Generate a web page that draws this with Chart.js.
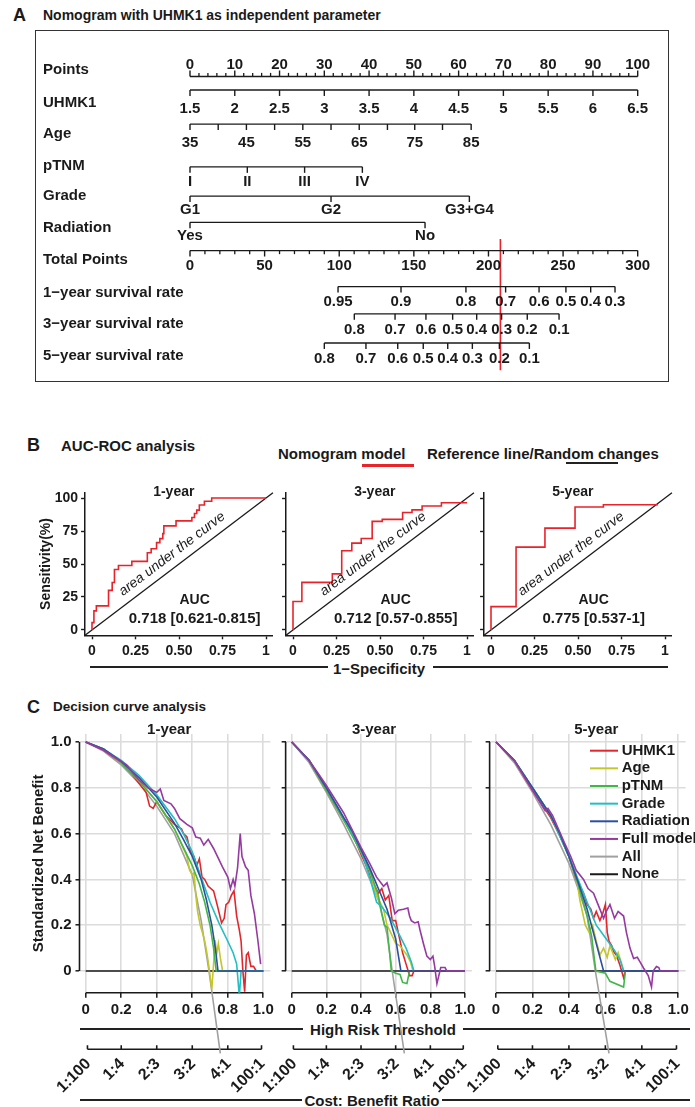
<!DOCTYPE html>
<html>
<head>
<meta charset="utf-8">
<script src="https://cdn.jsdelivr.net/npm/chart.js@4.4.1/dist/chart.umd.min.js"></script>
<style>
  body { margin: 0; width: 695px; height: 1107px; position: relative; overflow: hidden; background: #fff;
         font-family: "Liberation Sans", Arial, Helvetica, sans-serif; color: #1a1a1a; }
  canvas { position: absolute; }
  .lbl { position: absolute; font-weight: bold; white-space: nowrap; line-height: 1; transform: translateY(-50%); }
  .ctr { transform: translate(-50%, -50%); }
  .rule { position: absolute; height: 1.5px; background: #222; }
  .box { position: absolute; border: 1.5px solid #333; box-sizing: border-box; }
</style>
</head>
<body>
<div class="lbl" style="left:13px;top:15px;font-size:18px">A</div>
<div class="lbl" style="left:43px;top:15px;font-size:14px">Nomogram with UHMK1 as independent parameter</div>
<div class="box" style="left:35px;top:30px;width:634px;height:352px"></div>

<div class="lbl" style="left:27px;top:445px;font-size:18px">B</div>
<div class="lbl" style="left:61px;top:445px;font-size:15px">AUC-ROC analysis</div>
<div class="lbl" style="left:278px;top:453px;font-size:15px">Nomogram model</div>
<div class="rule" style="left:362px;top:464px;width:52px;height:2.5px;background:#e8232a"></div>
<div class="lbl" style="left:427px;top:453px;font-size:15px">Reference line/Random changes</div>
<div class="rule" style="left:566px;top:462px;width:52px;height:2px"></div>
<div class="lbl ctr" style="left:379px;top:668px;font-size:15px">1−Specificity</div>
<div class="rule" style="left:90px;top:666px;width:238px"></div>
<div class="rule" style="left:433px;top:666px;width:235px"></div>

<div class="lbl" style="left:27px;top:707px;font-size:18px">C</div>
<div class="lbl" style="left:53px;top:707px;font-size:13.5px">Decision curve analysis</div>
<div class="lbl ctr" style="left:383px;top:1029px;font-size:15px">High Risk Threshold</div>
<div class="rule" style="left:80px;top:1028px;width:223px"></div>
<div class="rule" style="left:463px;top:1028px;width:227px"></div>
<div class="lbl ctr" style="left:372px;top:1100px;font-size:15px">Cost: Benefit Ratio</div>
<div class="rule" style="left:80px;top:1099px;width:222px"></div>
<div class="rule" style="left:442px;top:1099px;width:248px"></div>

<script>
// ---------- data ----------
// nomogram rows
const nomoRows = ["Points", "UHMK1", "Age", "pTNM", "Grade", "Radiation", "Total Points",
  "1\u2212year survival rate", "3\u2212year survival rate", "5\u2212year survival rate"];
const pointTicks = [0, 10, 20, 30, 40, 50, 60, 70, 80, 90, 100];
const uhmk1Labels = ["1.5", "2", "2.5", "3", "3.5", "4", "4.5", "5", "5.5", "6", "6.5"];
const uhmk1Points = [0, 10, 20, 30, 40, 50, 60, 70, 80, 90, 100];
const ageLabels = ["35", "", "45", "", "55", "", "65", "", "75", "", "85"];
const agePoints = [0, 6.3, 12.6, 18.9, 25.2, 31.5, 37.8, 44.1, 50.2, 56.4, 62.8];
const ptnmLabels = ["I", "II", "III", "IV"];
const ptnmPoints = [0, 12.8, 25.6, 38.5];
const gradeLabels = ["G1", "G2", "G3+G4"];
const gradePoints = [0, 31.5, 62.4];
const radiationLabels = ["Yes", "No"];
const radiationPoints = [0, 52.5];
const totalTicks = [0, 50, 100, 150, 200, 250, 300];
const surv1Labels = ["0.95", "0.9", "0.8", "0.7", "0.6", "0.5", "0.4", "0.3"];
const surv1Total = [99.2, 141.4, 184.9, 211.5, 233.9, 251.9, 268.5, 284.8];
const surv3Labels = ["0.8", "0.7", "0.6", "0.5", "0.4", "0.3", "0.2", "0.1"];
const surv3Total = [110.1, 137.4, 158.1, 176.0, 192.1, 208.8, 226.0, 247.3];
const surv5Labels = ["0.8", "0.7", "0.6", "0.5", "0.4", "0.3", "0.2", "0.1"];
const surv5Total = [90.0, 117.9, 139.2, 156.3, 172.7, 189.2, 207.3, 227.4];
const patientTotal = 208;

// ROC (false positive rate, sensitivity %)
const rocTitles = ["1-year", "3-year", "5-year"];
const rocAuc = ["0.718 [0.621-0.815]", "0.712 [0.57-0.855]", "0.775 [0.537-1]"];
const roc1Fpr = [0, 0, 0.011, 0.025, 0.095, 0.116, 0.129, 0.152, 0.229, 0.318, 0.34, 0.371, 0.39, 0.407, 0.413, 0.483, 0.574, 0.589, 0.602, 0.617, 0.646, 0.688, 1];
const roc1Tpr = [0, 5.6, 14.5, 18.3, 30, 36, 45.8, 48.9, 52, 58.5, 61.6, 66.2, 69.2, 73, 78.9, 82.7, 85.2, 88.3, 90.8, 94.7, 97.5, 100, 100];
const roc3Fpr = [0, 0, 0.051, 0.226, 0.28, 0.338, 0.392, 0.455, 0.513, 0.63, 0.684, 0.742, 0.853, 1];
const roc3Tpr = [0, 21.6, 36.1, 42.5, 60, 65.8, 69.3, 82.3, 83.8, 89, 91, 93.9, 96.4, 96.4];
const roc5Fpr = [0, 0, 0.144, 0.31, 0.483, 0.646, 0.96];
const roc5Tpr = [0, 17.7, 62.8, 77.2, 93.2, 94.9, 94.9];
const rocXTicks = [0, 0.25, 0.5, 0.75, 1];
const rocXLabels = ["0", "0.25", "0.50", "0.75", "1"];
const rocYTicks = [0, 25, 50, 75, 100];

// decision curves [threshold, standardized net benefit]
const dcaTitles = ["1-year", "3-year", "5-year"];
const dcaSeries = ["UHMK1", "Age", "pTNM", "Grade", "Radiation", "Full model", "All", "None"];
const dca1Uhmk1 = [[0,1],[0.1,0.965],[0.2,0.91],[0.23,0.885],[0.26,0.86],[0.3,0.82],[0.34,0.78],[0.36,0.72],[0.38,0.71],[0.4,0.74],[0.45,0.68],[0.5,0.64],[0.54,0.62],[0.55,0.6],[0.57,0.585],[0.59,0.52],[0.61,0.5],[0.625,0.46],[0.64,0.49],[0.655,0.41],[0.67,0.4],[0.69,0.37],[0.72,0.35],[0.74,0.29],[0.765,0.21],[0.78,0.23],[0.79,0.29],[0.805,0.3],[0.82,0.33],[0.835,0.35],[0.85,0.24],[0.865,0.18],[0.875,0.13],[0.885,0],[0.895,-0.09],[0.905,0.07],[0.915,0.08],[0.93,0.02],[0.945,0.02],[0.96,0],[1,0]];
const dca1Age = [[0,1],[0.1,0.97],[0.2,0.91],[0.3,0.83],[0.4,0.74],[0.5,0.62],[0.57,0.5],[0.585,0.44],[0.6,0.42],[0.61,0.43],[0.62,0.33],[0.63,0.26],[0.645,0.2],[0.66,0.16],[0.67,0.13],[0.68,0.09],[0.69,0.04],[0.7,-0.02],[0.71,-0.08],[0.72,0.03],[0.728,0.135],[0.738,0.077],[0.747,0.12],[0.76,0.048],[0.771,0]];
const dca1Ptnm = [[0,1],[0.1,0.97],[0.2,0.91],[0.3,0.83],[0.4,0.74],[0.5,0.62],[0.55,0.54],[0.6,0.46],[0.64,0.38],[0.67,0.3],[0.7,0.2],[0.72,0.1],[0.735,0],[1,0]];
const dca1Grade = [[0,1],[0.1,0.97],[0.2,0.92],[0.3,0.855],[0.4,0.77],[0.5,0.665],[0.55,0.6],[0.6,0.52],[0.65,0.41],[0.7,0.3],[0.75,0.21],[0.8,0.13],[0.83,0.08],[0.85,0.03],[0.865,-0.11],[0.875,0],[1,0]];
const dca1Radiation = [[0,1],[0.1,0.97],[0.2,0.915],[0.3,0.845],[0.4,0.76],[0.5,0.645],[0.55,0.575],[0.6,0.5],[0.65,0.4],[0.68,0.31],[0.71,0.2],[0.73,0.1],[0.745,0],[1,0]];
const dca1Full = [[0,1],[0.1,0.965],[0.2,0.915],[0.23,0.9],[0.26,0.87],[0.3,0.835],[0.35,0.8],[0.4,0.78],[0.42,0.795],[0.44,0.745],[0.48,0.73],[0.5,0.71],[0.53,0.665],[0.57,0.64],[0.6,0.625],[0.62,0.585],[0.645,0.58],[0.665,0.55],[0.69,0.575],[0.72,0.535],[0.77,0.455],[0.8,0.41],[0.815,0.36],[0.83,0.4],[0.84,0.37],[0.855,0.45],[0.87,0.6],[0.88,0.5],[0.9,0.455],[0.915,0.44],[0.93,0.33],[0.95,0.25],[0.97,0.13],[0.985,0.03]];
const dca1All = [[0,1],[0.1,0.96],[0.2,0.9],[0.3,0.82],[0.4,0.72],[0.5,0.6],[0.6,0.42],[0.65,0.22],[0.694,0],[0.709,-0.083],[0.758,-0.36]];
const dca3Uhmk1 = [[0,1],[0.1,0.92],[0.2,0.79],[0.3,0.66],[0.35,0.6],[0.4,0.51],[0.43,0.46],[0.46,0.4],[0.5,0.34],[0.52,0.36],[0.54,0.31],[0.56,0.33],[0.58,0.22],[0.6,0.22],[0.62,0.15],[0.64,0.08],[0.66,0.03],[0.68,-0.02],[0.695,-0.02],[0.705,0],[1,0]];
const dca3Age = [[0,1],[0.1,0.92],[0.2,0.79],[0.3,0.66],[0.4,0.52],[0.45,0.44],[0.49,0.33],[0.51,0.3],[0.53,0.27],[0.55,0.2],[0.57,0.17],[0.6,0.12],[0.625,0.11],[0.645,0.09],[0.665,0.07],[0.685,0.04],[0.7,0]];
const dca3Ptnm = [[0,1],[0.1,0.92],[0.2,0.79],[0.3,0.66],[0.4,0.52],[0.45,0.44],[0.5,0.33],[0.52,0.25],[0.535,0.2],[0.55,0.19],[0.565,0.08],[0.575,0],[0.6,-0.01],[0.625,-0.015],[0.64,-0.05],[0.665,-0.055],[0.68,0]];
const dca3Grade = [[0,1],[0.1,0.92],[0.2,0.8],[0.3,0.67],[0.4,0.53],[0.45,0.41],[0.49,0.3],[0.52,0.28],[0.57,0.23],[0.62,0.16],[0.66,0.1],[0.69,0.04],[0.705,0]];
const dca3Radiation = [[0,1],[0.1,0.92],[0.2,0.8],[0.3,0.67],[0.35,0.61],[0.4,0.53],[0.45,0.45],[0.5,0.36],[0.55,0.27],[0.6,0.14],[0.63,0],[1,0]];
const dca3Full = [[0,1],[0.1,0.92],[0.16,0.855],[0.2,0.81],[0.3,0.69],[0.36,0.6],[0.4,0.54],[0.45,0.47],[0.49,0.41],[0.53,0.37],[0.55,0.385],[0.575,0.32],[0.595,0.25],[0.615,0.265],[0.645,0.27],[0.67,0.275],[0.68,0.24],[0.69,0.22],[0.71,0.21],[0.73,0.215],[0.74,0.18],[0.76,0.12],[0.78,0.065],[0.8,0.05],[0.815,0.065],[0.825,0.02],[0.838,-0.055],[0.86,0.015],[0.885,0.015],[0.895,0],[1,0]];
const dca3All = [[0,1],[0.1,0.91],[0.2,0.78],[0.3,0.64],[0.4,0.49],[0.5,0.31],[0.55,0.16],[0.58,0],[0.596,-0.083],[0.65,-0.36]];
const dca5Uhmk1 = [[0,1],[0.1,0.92],[0.2,0.79],[0.3,0.67],[0.35,0.59],[0.4,0.5],[0.44,0.4],[0.48,0.34],[0.5,0.29],[0.52,0.27],[0.535,0.23],[0.55,0.26],[0.57,0.22],[0.585,0.25],[0.6,0.29],[0.61,0.17],[0.62,0.13],[0.635,0.11],[0.645,0.085],[0.66,0.07],[0.68,0.025],[0.7,-0.03],[0.71,0]];
const dca5Age = [[0,1],[0.1,0.92],[0.2,0.8],[0.3,0.68],[0.4,0.5],[0.44,0.42],[0.46,0.31],[0.49,0.2],[0.51,0.17],[0.53,0.2],[0.55,0.13],[0.57,0.07],[0.59,0.1],[0.61,0.06],[0.625,0.11],[0.64,0.08],[0.655,0.05],[0.67,0.08],[0.69,0.03],[0.7,0]];
const dca5Ptnm = [[0,1],[0.1,0.92],[0.2,0.8],[0.3,0.68],[0.4,0.5],[0.45,0.38],[0.5,0.24],[0.525,0.15],[0.54,0.05],[0.548,0],[0.6,-0.01],[0.625,-0.045],[0.7,-0.07],[0.71,0]];
const dca5Grade = [[0,1],[0.1,0.92],[0.2,0.8],[0.3,0.68],[0.4,0.5],[0.45,0.4],[0.5,0.3],[0.55,0.2],[0.6,0.145],[0.65,0.09],[0.68,0.05],[0.7,0]];
const dca5Radiation = [[0,1],[0.1,0.92],[0.2,0.8],[0.3,0.68],[0.35,0.6],[0.4,0.5],[0.45,0.39],[0.5,0.27],[0.54,0.15],[0.57,0.06],[0.59,0],[1,0]];
const dca5Full = [[0,1],[0.1,0.92],[0.2,0.79],[0.27,0.7],[0.285,0.71],[0.31,0.68],[0.37,0.57],[0.41,0.5],[0.44,0.44],[0.48,0.4],[0.505,0.36],[0.535,0.34],[0.56,0.29],[0.59,0.23],[0.605,0.26],[0.625,0.29],[0.65,0.23],[0.67,0.26],[0.7,0.24],[0.715,0.17],[0.735,0.1],[0.755,0.055],[0.775,0.06],[0.79,0.04],[0.81,0.012],[0.835,-0.02],[0.853,-0.07],[0.862,0],[0.88,0.02],[0.893,0.015],[0.9,0],[1,0]];
const dca5All = [[0,1],[0.1,0.91],[0.2,0.78],[0.3,0.64],[0.4,0.47],[0.45,0.36],[0.5,0.24],[0.545,0],[0.57,-0.12],[0.62,-0.36]];
const dcaNone = [[0,0],[1,0]];
const dcaXTicks = [0, 0.2, 0.4, 0.6, 0.8, 1];
const dcaXLabels = ["0", "0.2", "0.4", "0.6", "0.8", "1.0"];
const dcaYTicks = [0, 0.2, 0.4, 0.6, 0.8, 1];
const dcaYLabels = ["0", "0.2", "0.4", "0.6", "0.8", "1.0"];
const cbTicks = [0.0099, 0.2, 0.4, 0.6, 0.8, 0.99];
const cbLabels = ["1:100", "1:4", "2:3", "3:2", "4:1", "100:1"];

// ---------- styling / layout ----------
const fam = '"Liberation Sans", Arial, Helvetica, sans-serif';
const ink = "#1a1a1a";
const red = "#e8232a";
const dcaColors = ["#e3262c", "#c3c62c", "#43b649", "#22bec3", "#2c4f9f", "#9639a1", "#a0a0a0", "#1a1a1a"];
const dcaOrder = [5, 4, 3, 2, 1, 0, 6, 7]; // lower = drawn on top

Chart.defaults.font.family = fam;
Chart.defaults.color = ink;
Chart.defaults.animation = false;
Chart.defaults.events = [];
Chart.defaults.plugins.legend.display = false;
Chart.defaults.plugins.tooltip.enabled = false;

function makeCanvas(left, top, width, height) {
  const c = document.createElement("canvas");
  c.width = width; c.height = height;
  c.style.left = left + "px"; c.style.top = top + "px";
  c.style.width = width + "px"; c.style.height = height + "px";
  document.body.appendChild(c);
  return c;
}
const toXY = (pairs) => pairs.map(([x, y]) => ({ x, y }));
const fixTicks = (vals) => (s) => { s.ticks = vals.map((v) => ({ value: v })); };

// ---------- A: nomogram ----------
const pointMinor = [];
for (let p = 0; p <= 100; p += 2) if (p % 10) pointMinor.push(p);
const totalMinor = [];
for (let t = 0; t <= 300; t += 10) if (t % 50) totalMinor.push(t);

const nomoAxes = [
  { scale: "x", vals: pointTicks, labels: pointTicks.map(String), minor: pointMinor, up: true },
  { scale: "x", vals: uhmk1Points, labels: uhmk1Labels },
  { scale: "x", vals: agePoints, labels: ageLabels },
  { scale: "x", vals: ptnmPoints, labels: ptnmLabels },
  { scale: "x", vals: gradePoints, labels: gradeLabels },
  { scale: "x", vals: radiationPoints, labels: radiationLabels },
  { scale: "xt", vals: totalTicks, labels: totalTicks.map(String), minor: totalMinor },
  { scale: "xt", vals: surv1Total, labels: surv1Labels },
  { scale: "xt", vals: surv3Total, labels: surv3Labels },
  { scale: "xt", vals: surv5Total, labels: surv5Labels },
];
// page y of row name, axis line and tick labels
const nomoNameY = [66, 100, 132, 165, 196, 229, 262, 295, 327, 360];
const nomoLineY = [73, 87, 122, 166, 196, 223, 252, 289, 317, 347];
const nomoLabelY = [61, 106, 141, 181, 210, 237, 268, 305, 333, 363];

const nomoSets = [];
nomoAxes.forEach((a, i) => {
  const ly = nomoLineY[i], dir = a.up ? -1 : 1;
  nomoSets.push({ xAxisID: a.scale, data: [{ x: Math.min(...a.vals), y: ly }, { x: Math.max(...a.vals), y: ly }],
    showLine: true, borderColor: ink, borderWidth: 1.4, pointRadius: 0, clip: false });
  nomoSets.push({ xAxisID: a.scale, data: a.vals.map((v) => ({ x: v, y: ly + dir * 3 })),
    pointStyle: "line", pointRotation: 90, pointRadius: 3, pointBorderColor: ink, pointBorderWidth: 1.4, clip: false });
  if (a.minor) nomoSets.push({ xAxisID: a.scale, data: a.minor.map((v) => ({ x: v, y: ly + dir * 1.8 })),
    pointStyle: "line", pointRotation: 90, pointRadius: 1.8, pointBorderColor: ink, pointBorderWidth: 1.3, clip: false });
});
nomoSets.push({ xAxisID: "xt", data: [{ x: patientTotal, y: 240 }, { x: patientTotal, y: 375 }],
  showLine: true, borderColor: red, borderWidth: 1.6, pointRadius: 0, clip: false });

const nomoText = {
  id: "nomoText",
  afterDatasetsDraw(chart) {
    const ctx = chart.ctx, ys = chart.scales.y;
    ctx.save();
    ctx.fillStyle = ink;
    ctx.font = "bold 15px " + fam;
    ctx.textBaseline = "middle";
    ctx.textAlign = "left";
    nomoRows.forEach((name, i) => ctx.fillText(name, 43, ys.getPixelForValue(nomoNameY[i])));
    ctx.textAlign = "center";
    nomoAxes.forEach((a, i) => {
      const sc = chart.scales[a.scale];
      a.vals.forEach((v, j) => {
        if (a.labels[j]) ctx.fillText(a.labels[j], sc.getPixelForValue(v), ys.getPixelForValue(nomoLabelY[i]));
      });
    });
    ctx.restore();
  },
};

new Chart(makeCanvas(0, 0, 695, 400), {
  type: "scatter",
  data: { datasets: nomoSets },
  options: {
    responsive: false,
    layout: { padding: { left: 190, right: 57.3, top: 0, bottom: 0 } },
    scales: {
      x: { type: "linear", min: 0, max: 100, display: false },
      xt: { type: "linear", axis: "x", position: "bottom", min: 0, max: 300, display: false },
      y: { type: "linear", min: 0, max: 400, reverse: true, display: false },
    },
  },
  plugins: [nomoText],
});

// ---------- B: ROC ----------
const rocFpr = [roc1Fpr, roc3Fpr, roc5Fpr];
const rocTpr = [roc1Tpr, roc3Tpr, roc5Tpr];
const rocCanvasLeft = [30, 260, 458];
const rocZeroX = [92, 293, 491];
const rocUnit = 174;
const rocTop = 470, rocBottom = 665, rocY100 = 498, rocY0 = 630;

const rocText = {
  id: "rocText",
  afterDatasetsDraw(chart, args, o) {
    const { ctx, scales: { x, y } } = chart;
    ctx.save();
    ctx.fillStyle = ink;
    ctx.textAlign = "center";
    ctx.font = "bold 14px " + fam;
    ctx.textBaseline = "alphabetic";
    ctx.fillText(o.title, x.getPixelForValue(0.47), y.getPixelForValue(100) - 2);
    ctx.textBaseline = "middle";
    ctx.fillText("AUC", x.getPixelForValue(0.59), y.getPixelForValue(22.4));
    ctx.font = "bold 15px " + fam;
    ctx.fillText(o.auc, x.getPixelForValue(0.59), y.getPixelForValue(8.4));
    const ang = Math.atan2(y.getPixelForValue(100) - y.getPixelForValue(0), x.getPixelForValue(1) - x.getPixelForValue(0));
    ctx.translate(x.getPixelForValue(0.46), y.getPixelForValue(57.5));
    ctx.rotate(ang);
    ctx.font = "italic 14px " + fam;
    ctx.fillText("area under the curve", 0, 0);
    ctx.restore();
  },
};

rocTitles.forEach((title, i) => {
  const first = i === 0;
  const cl = rocCanvasLeft[i];
  const aL = rocZeroX[i] - 0.04 * rocUnit, aR = rocZeroX[i] + 1.04 * rocUnit;
  const span = rocY0 - rocY100;
  const aT = rocY100 - 0.04 * span, aB = rocY0 + 0.04 * span;
  const W = Math.ceil(aR - cl + 14);
  const yw = first ? aL - cl - 7.6 : 6;
  const xh = 25;
  new Chart(makeCanvas(cl, rocTop, W, rocBottom - rocTop), {
    type: "scatter",
    data: {
      datasets: [
        // horizontal run first, then the jump in sensitivity
        { data: rocFpr[i].map((f, j) => ({ x: f, y: rocTpr[i][j] })), showLine: true, stepped: "before",
          borderColor: red, borderWidth: 1.6, pointRadius: 0 },
        { data: [{ x: -0.04, y: -4 }, { x: 1.04, y: 104 }], showLine: true, borderColor: ink, borderWidth: 1.3,
          pointRadius: 0, clip: false },
      ],
    },
    options: {
      responsive: false,
      layout: { padding: { left: aL - cl - yw, right: W - (aR - cl), top: aT - rocTop, bottom: rocBottom - aB - xh } },
      scales: {
        x: {
          type: "linear", min: -0.04, max: 1.04, afterBuildTicks: fixTicks(rocXTicks),
          ticks: { callback: (v, j) => rocXLabels[j], font: { size: 14, weight: "bold" }, padding: 3, maxRotation: 0, autoSkip: false },
          grid: { drawOnChartArea: false, drawTicks: true, tickLength: 4, tickColor: ink, tickWidth: 1.4 },
          border: { display: true, color: ink, width: 1.5 },
          afterFit: (s) => { s.height = xh; },
        },
        y: {
          type: "linear", min: -4, max: 104, afterBuildTicks: fixTicks(rocYTicks),
          ticks: { display: first, callback: (v) => String(v), font: { size: 14, weight: "bold" }, padding: 3 },
          grid: { drawOnChartArea: false, drawTicks: true, tickLength: 4, tickColor: ink, tickWidth: 1.4 },
          border: { display: true, color: ink, width: 1.5 },
          title: { display: first, text: "Sensitivity(%)", font: { size: 14, weight: "bold" }, padding: 0 },
          afterFit: (s) => { s.width = yw; },
        },
      },
      plugins: { rocText: { title, auc: rocAuc[i] } },
    },
    plugins: [rocText],
  });
});

// ---------- C: decision curves ----------
const dcaData = [
  [dca1Uhmk1, dca1Age, dca1Ptnm, dca1Grade, dca1Radiation, dca1Full, dca1All, dcaNone],
  [dca3Uhmk1, dca3Age, dca3Ptnm, dca3Grade, dca3Radiation, dca3Full, dca3All, dcaNone],
  [dca5Uhmk1, dca5Age, dca5Ptnm, dca5Grade, dca5Radiation, dca5Full, dca5All, dcaNone],
];
const dcaCanvasLeft = [0, 240, 445];
const dcaCanvasW = [285, 245, 250];
const dcaZeroX = [85.7, 291.7, 496];
const dcaUnit = [177.6, 173.3, 182.3];
const dcaTitleAt = [0.47, 0.475, 0.55];
const dcaTop = 712, dcaBottom = 1095, dcaY1 = 742, dcaY0 = 971;
const cbAxisY = 1049.3;

const dcaDecor = {
  id: "dcaDecor",
  beforeDatasetsDraw(chart, args, o) {
    const { ctx, chartArea: a, scales: { x, y } } = chart;
    const cbY = a.bottom + o.cbOffset;
    ctx.save();
    ctx.strokeStyle = ink;
    ctx.lineWidth = 1.6;
    ctx.beginPath();
    ctx.moveTo(a.left, y.getPixelForValue(1)); ctx.lineTo(a.left, y.getPixelForValue(0));
    ctx.moveTo(x.getPixelForValue(0), a.bottom); ctx.lineTo(x.getPixelForValue(1), a.bottom);
    // cost:benefit axis, same threshold scale
    ctx.moveTo(x.getPixelForValue(cbTicks[0]), cbY); ctx.lineTo(x.getPixelForValue(cbTicks[cbTicks.length - 1]), cbY);
    cbTicks.forEach((v) => { const px = x.getPixelForValue(v); ctx.moveTo(px, cbY); ctx.lineTo(px, cbY - 4); });
    ctx.stroke();
    ctx.fillStyle = ink;
    ctx.font = "bold 16px " + fam;
    ctx.textAlign = "right";
    ctx.textBaseline = "middle";
    cbTicks.forEach((v, j) => {
      ctx.save();
      ctx.translate(x.getPixelForValue(v) + 1, cbY + 12);
      ctx.rotate(-Math.PI / 4);
      ctx.fillText(cbLabels[j], 0, 0);
      ctx.restore();
    });
    ctx.restore();
  },
  afterDatasetsDraw(chart, args, o) {
    const { ctx, scales: { x, y } } = chart;
    ctx.save();
    ctx.fillStyle = ink;
    ctx.font = "bold 15px " + fam;
    ctx.textAlign = "center";
    ctx.textBaseline = "alphabetic";
    ctx.fillText(o.title, x.getPixelForValue(o.titleAt), y.getPixelForValue(1) - 8);
    if (o.legend) {
      ctx.textAlign = "left";
      ctx.textBaseline = "middle";
      dcaSeries.forEach((name, i) => {
        const ly = 38.7 + i * 17.65;
        ctx.strokeStyle = dcaColors[i];
        ctx.lineWidth = 2;
        ctx.beginPath(); ctx.moveTo(145, ly); ctx.lineTo(173, ly); ctx.stroke();
        ctx.fillText(name, 176.7, ly);
      });
    }
    ctx.restore();
  },
};

dcaTitles.forEach((title, i) => {
  const first = i === 0;
  const cl = dcaCanvasLeft[i], W = dcaCanvasW[i];
  const aL = dcaZeroX[i] - 0.035 * dcaUnit[i], aR = dcaZeroX[i] + 1.04 * dcaUnit[i];
  const yUnit = dcaY0 - dcaY1;
  const aT = dcaY0 - 1.035 * yUnit, aB = dcaY0 + 0.095 * yUnit;
  const cbOffset = cbAxisY - aB, xh = cbOffset + 40;
  const yw = first ? aL - cl - 30 : 8;
  const datasets = dcaSeries.map((name, k) => ({
    label: name, data: toXY(dcaData[i][k]), showLine: true, borderColor: dcaColors[k],
    borderWidth: k === 7 ? 1.4 : 1.6, pointRadius: 0, order: dcaOrder[k], clip: name === "All" ? false : undefined,
  }));
  const tickFont = { size: 15, weight: "bold" };
  new Chart(makeCanvas(cl, dcaTop, W, dcaBottom - dcaTop), {
    type: "scatter",
    data: { datasets },
    options: {
      responsive: false,
      layout: { padding: { left: aL - cl - yw, right: W - (aR - cl), top: aT - dcaTop, bottom: dcaBottom - aB - xh } },
      scales: {
        x: {
          type: "linear", min: -0.035, max: 1.04, afterBuildTicks: fixTicks(dcaXTicks),
          ticks: { callback: (v, j) => dcaXLabels[j], font: tickFont, padding: 3, maxRotation: 0, autoSkip: false },
          grid: { color: "#dcdcdc", lineWidth: 1.6, drawTicks: true, tickLength: 5, tickColor: ink, tickWidth: 1.5 },
          border: { display: false },
          afterFit: (s) => { s.height = xh; },
        },
        y: {
          type: "linear", min: -0.095, max: 1.035, afterBuildTicks: fixTicks(dcaYTicks),
          ticks: { display: first, callback: (v, j) => dcaYLabels[j], font: tickFont, padding: 4 },
          grid: { color: "#dcdcdc", lineWidth: 1.6, drawTicks: true, tickLength: 4, tickColor: ink, tickWidth: 1.5 },
          border: { display: false },
          title: { display: first, text: "Standardized Net Benefit", font: { size: 15, weight: "bold" }, padding: 0 },
          afterFit: (s) => { s.width = yw; },
        },
      },
      plugins: { dcaDecor: { title, titleAt: dcaTitleAt[i], legend: i === 2, cbOffset } },
    },
    plugins: [dcaDecor],
  });
});
</script>
</body>
</html>
